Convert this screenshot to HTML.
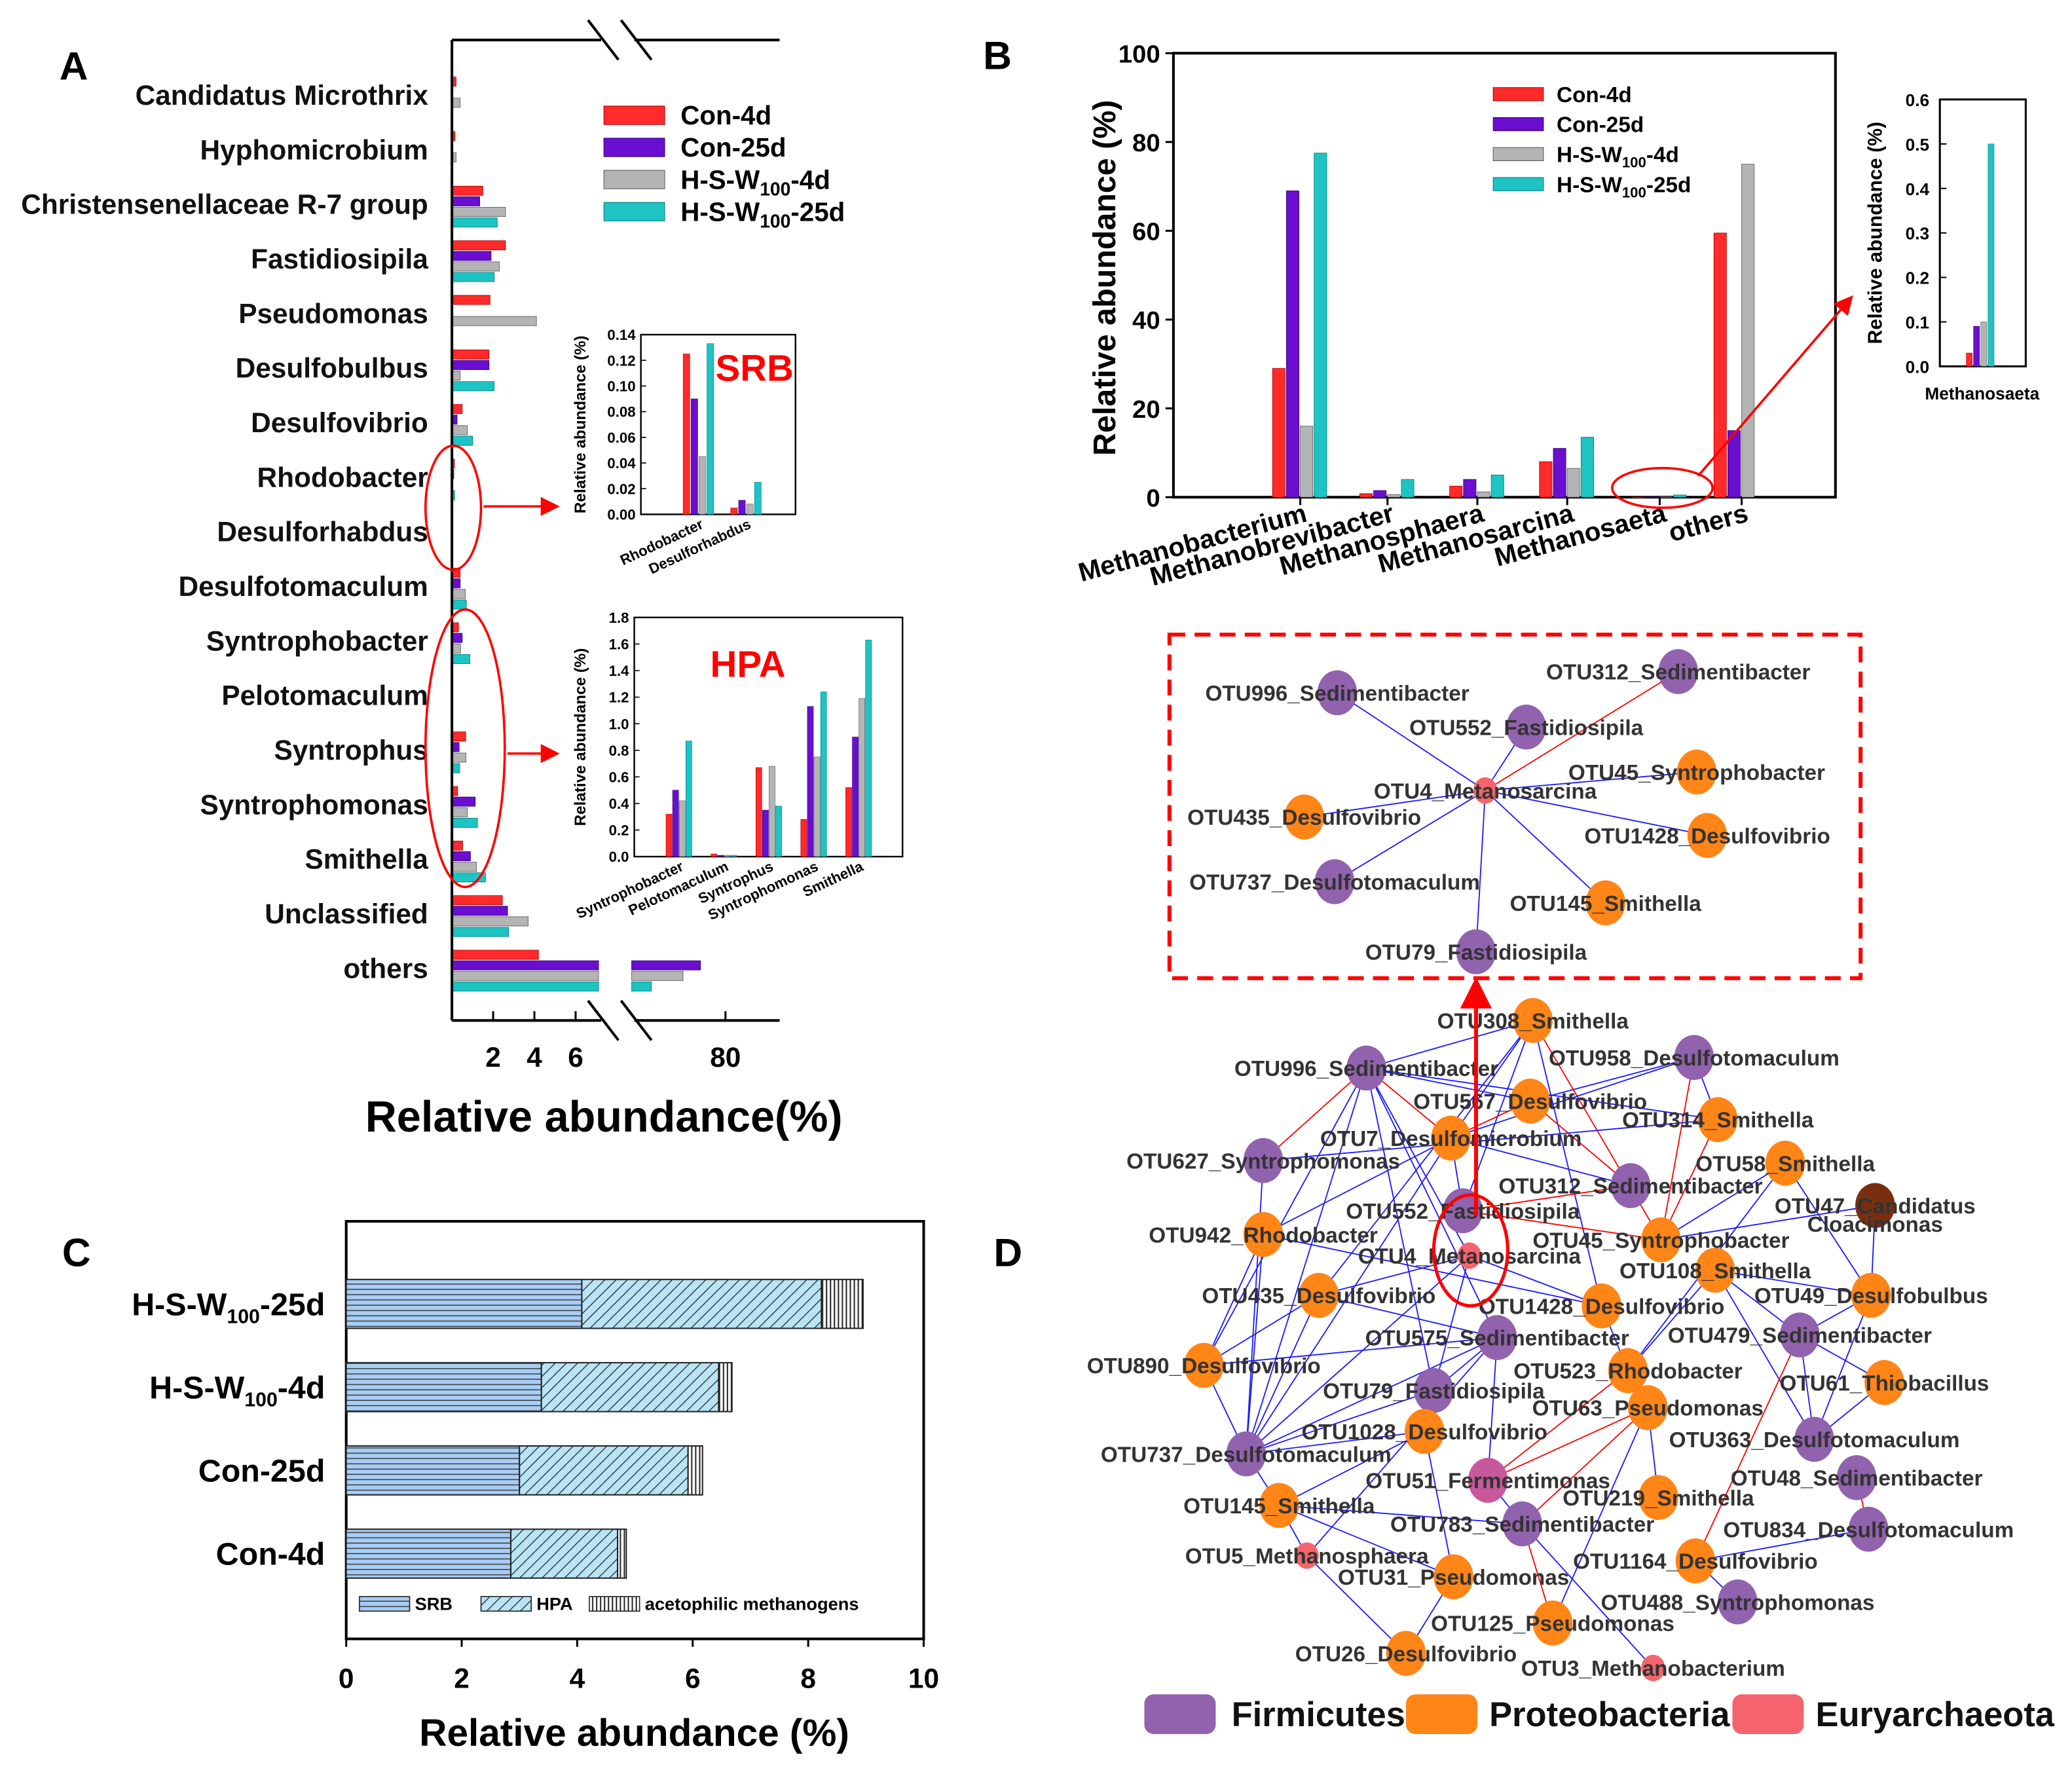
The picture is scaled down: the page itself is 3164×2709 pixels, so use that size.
<!DOCTYPE html>
<html><head><meta charset="utf-8"><style>
html,body{margin:0;padding:0;background:#fff}
svg{display:block}
text{font-family:"Liberation Sans",sans-serif;font-weight:bold}
</style></head><body>
<svg id="fig" width="3164" height="2709" viewBox="0 0 1568 1342" xmlns="http://www.w3.org/2000/svg">
<defs>
<pattern id="pSRB" width="6" height="4" patternUnits="userSpaceOnUse"><rect width="6" height="4" fill="#a8cdf5"/><line x1="0" y1="3.5" x2="6" y2="3.5" stroke="#333" stroke-width="0.7"/></pattern>
<pattern id="pHPA" width="6" height="6" patternUnits="userSpaceOnUse" patternTransform="rotate(45)"><rect width="6" height="6" fill="#b8e4f5"/><line x1="0" y1="0" x2="0" y2="6" stroke="#333" stroke-width="1.4"/></pattern>
<pattern id="pACE" width="3" height="4" patternUnits="userSpaceOnUse"><rect width="3" height="4" fill="#fff"/><line x1="1.5" y1="0" x2="1.5" y2="4" stroke="#222" stroke-width="1"/></pattern>
<marker id="arr" markerWidth="8" markerHeight="8" refX="6" refY="4" orient="auto"><path d="M0,0 L8,4 L0,8 z" fill="#f00"/></marker>
</defs>
<g id="gA"></g><g id="gB"></g><g id="gC"></g><g id="gD"></g>
</svg>
<script>
// ===== Panel A data =====
const aCategories = ["Candidatus Microthrix","Hyphomicrobium","Christensenellaceae R-7 group","Fastidiosipila","Pseudomonas","Desulfobulbus","Desulfovibrio","Rhodobacter","Desulforhabdus","Desulfotomaculum","Syntrophobacter","Pelotomaculum","Syntrophus","Syntrophomonas","Smithella","Unclassified","others"];
const aCon4d  = [0.2,0.15,1.5,2.6,1.85,1.8,0.5,0.12,0.005,0.4,0.32,0.02,0.67,0.28,0.52,2.45,4.2];
const aCon25d = [0,0,1.35,1.9,0,1.8,0.25,0.09,0.01,0.4,0.5,0.01,0.35,1.13,0.9,2.7,73.7];
const aHSW4d  = [0.4,0.2,2.6,2.3,4.1,0.4,0.75,0.045,0.008,0.65,0.42,0.01,0.68,0.75,1.19,3.7,69.3];
const aHSW25d = [0,0,2.2,2.05,0,2.05,1.0,0.13,0.025,0.7,0.87,0.01,0.38,1.24,1.63,2.75,61.3];
const aTicks = [2,4,6,80];
const srbCats = ["Rhodobacter","Desulforhabdus"];
const srbCon4d=[0.125,0.005], srbCon25d=[0.09,0.011], srbHSW4d=[0.045,0.008], srbHSW25d=[0.133,0.025];
const srbTicks=[0,0.02,0.04,0.06,0.08,0.10,0.12,0.14];
const hpaCats=["Syntrophobacter","Pelotomaculum","Syntrophus","Syntrophomonas","Smithella"];
const hpaCon4d=[0.32,0.02,0.67,0.28,0.52], hpaCon25d=[0.5,0.01,0.35,1.13,0.9], hpaHSW4d=[0.42,0.01,0.68,0.75,1.19], hpaHSW25d=[0.87,0.01,0.38,1.24,1.63];
const hpaTicks=[0,0.2,0.4,0.6,0.8,1.0,1.2,1.4,1.6,1.8];
// ===== Panel B data =====
const bCats=["Methanobacterium","Methanobrevibacter","Methanosphaera","Methanosarcina","Methanosaeta","others"];
const bCon4d=[29,0.8,2.5,8,0.03,59.5], bCon25d=[69,1.5,4,11,0.09,15], bHSW4d=[16,0.6,1.2,6.5,0.1,75], bHSW25d=[77.5,4,5,13.5,0.5,0];
const bTicks=[0,20,40,60,80,100];
const bInsetVals=[0.03,0.09,0.1,0.5];
const bInsetTicks=[0,0.1,0.2,0.3,0.4,0.5,0.6];
// ===== Panel C data =====
const cCats=["H-S-W100-25d","H-S-W100-4d","Con-25d","Con-4d"];
const cSRB=[4.08,3.38,3.0,2.85], cHPA=[4.15,3.07,2.92,1.85], cACE=[0.72,0.23,0.25,0.15];
const cTicks=[0,2,4,6,8,10];

const NS="http://www.w3.org/2000/svg";
function el(parent,tag,attrs,txt){const e=document.createElementNS(NS,tag);for(const k in attrs)e.setAttribute(k,attrs[k]);if(txt!==undefined)e.textContent=txt;parent.appendChild(e);return e;}
const COL=["#ff2a2a","#6a0fd0","#b4b4b4","#1ec3c3"];
const EDGE=["#a00","#300070","#555","#077"];
const seriesNames=["con-4d","con-25d","hsw100-4d","hsw100-25d"];

// ---------- Panel A ----------
const gA=document.getElementById('gA');
let t=el(gA,'text',{x:45,y:60,'font-size':30});

t.textContent='A';
function ax(v){return v<=6.9?342+v*15.6:549+(v-80)*3;}
const aSeries=[aCon4d,aCon25d,aHSW4d,aHSW25d];
const offs=[-14,-6,2,10];
aCategories.forEach((c,i)=>{
  const cy=72+i*41.3;
  const tx=el(gA,'text',{x:324,y:cy+7,'text-anchor':'end','font-size':21,fill:'#111'},c);
  
  
  aSeries.forEach((s,j)=>{
    const v=s[i]; if(v<=0) return;
    if(v>6.9){
      const r1=el(gA,'rect',{x:342,y:cy+offs[j],width:453-342,height:7,fill:COL[j],stroke:EDGE[j],'stroke-width':0.4});
      
      
      const r2=el(gA,'rect',{x:478,y:cy+offs[j],width:ax(v)-478,height:7,fill:COL[j],stroke:EDGE[j],'stroke-width':0.4});
      
      
    } else {
      const r=el(gA,'rect',{x:342,y:cy+offs[j],width:Math.max(ax(v)-342,0.6),height:7,fill:COL[j],stroke:EDGE[j],'stroke-width':0.4});
      
      
    }
  });
});
el(gA,'line',{x1:342,y1:30,x2:342,y2:772,stroke:'#000','stroke-width':2});
el(gA,'line',{x1:342,y1:772,x2:455,y2:772,stroke:'#000','stroke-width':2});
el(gA,'line',{x1:480,y1:772,x2:590,y2:772,stroke:'#000','stroke-width':2});
el(gA,'line',{x1:342,y1:30,x2:455,y2:30,stroke:'#000','stroke-width':2});
el(gA,'line',{x1:480,y1:30,x2:590,y2:30,stroke:'#000','stroke-width':2});
[[445,15,468,45],[470,15,493,45],[445,757,468,787],[470,757,493,787]].forEach(b=>el(gA,'line',{x1:b[0],y1:b[1],x2:b[2],y2:b[3],stroke:'#000','stroke-width':2}));
aTicks.forEach(v=>{
  el(gA,'line',{x1:ax(v),y1:772,x2:ax(v),y2:765,stroke:'#000','stroke-width':1.5});
  const tk=el(gA,'text',{x:ax(v),y:807,'text-anchor':'middle','font-size':21},String(v));
  
  
});
t=el(gA,'text',{x:457,y:856,'text-anchor':'middle','font-size':33},'Relative abundance(%)');


const legA=[['Con-4d',''],['Con-25d',''],['H-S-W','-4d'],['H-S-W','-25d']];
legA.forEach((l,j)=>{
  const y=87+j*24.3;
  const r=el(gA,'rect',{x:457,y:y-7,width:46,height:14,fill:COL[j],stroke:EDGE[j],'stroke-width':0.5});
  
  
  const tx=el(gA,'text',{x:515,y:y+7,'font-size':20});
  
  
  tx.innerHTML=l[1]?l[0]+'<tspan font-size="14" dy="5">100</tspan><tspan dy="-5">'+l[1]+'</tspan>':l[0];
});
el(gA,'ellipse',{cx:343,cy:384,rx:21,ry:47,fill:'none',stroke:'#f00','stroke-width':1.8});
el(gA,'ellipse',{cx:352,cy:566,rx:30,ry:105,fill:'none',stroke:'#f00','stroke-width':1.8});
el(gA,'line',{x1:366,y1:383,x2:420,y2:383,stroke:'#f00','stroke-width':1.8,'marker-end':'url(#arr)'});
el(gA,'line',{x1:384,y1:570,x2:420,y2:570,stroke:'#f00','stroke-width':1.8,'marker-end':'url(#arr)'});
function inset(g,box,max,ticks,cats,series,start,gap,bw,stride,labelTxt,lx,ly,titleX,dec){
  const [x0,y0,x1,y1]=box;
  const sy=v=>y1-v*(y1-y0)/max;
  el(g,'rect',{x:x0,y:y0,width:x1-x0,height:y1-y0,fill:'#fff',stroke:'#000','stroke-width':1.2});
  ticks.forEach(v=>{
    el(g,'line',{x1:x0,y1:sy(v),x2:x0+4,y2:sy(v),stroke:'#000','stroke-width':0.8});
    el(g,'text',{x:x0-4,y:sy(v)+4,'text-anchor':'end','font-size':11},v.toFixed(dec));
  });
  cats.forEach((c,i)=>{
    const gx=start+i*gap;
    series.forEach((s,j)=>{
      const r=el(g,'rect',{x:gx+j*stride,y:sy(s[i]),width:bw,height:Math.max(y1-sy(s[i]),0.5),fill:COL[j],stroke:EDGE[j],'stroke-width':0.3});
      
      
    });
    el(g,'text',{x:gx+stride*2+4,y:y1+10,'text-anchor':'end','font-size':11,transform:`rotate(-25 ${gx+stride*2+4} ${y1+10})`},c);
  });
  const tt=el(g,'text',{x:titleX,y:(y0+y1)/2,'text-anchor':'middle','font-size':12,transform:`rotate(-90 ${titleX} ${(y0+y1)/2})`},'Relative abundance (%)');
  
  
  const lt=el(g,'text',{x:lx,y:ly,'text-anchor':'middle','font-size':28,fill:'#f00'},labelTxt);
  
  
}
inset(gA,[485,253,602,389],0.14,srbTicks,srbCats,[srbCon4d,srbCon25d,srbHSW4d,srbHSW25d],517,36,5,6,'SRB',571,288,443,2);
inset(gA,[480,467,683,648],1.8,hpaTicks,hpaCats,[hpaCon4d,hpaCon25d,hpaHSW4d,hpaHSW25d],504,34,4.5,5,'HPA',566,512,443,1);

// ---------- Panel B ----------
const gB=document.getElementById('gB');
t=el(gB,'text',{x:744,y:52,'font-size':30},'B');


const by=v=>376-v*3.36;
el(gB,'rect',{x:888,y:40,width:501,height:336,fill:'none',stroke:'#000','stroke-width':2});
bTicks.forEach(v=>{
  el(gB,'line',{x1:888,y1:by(v),x2:882,y2:by(v),stroke:'#000','stroke-width':1.5});
  const tk=el(gB,'text',{x:878,y:by(v)+7,'text-anchor':'end','font-size':19},String(v));
  
  
});
const bCenters=[984,1050,1118,1186,1256,1318];
const bSeries=[bCon4d,bCon25d,bHSW4d,bHSW25d];
bCats.forEach((c,i)=>{
  const gx=bCenters[i]-21;
  bSeries.forEach((s,j)=>{
    if(s[i]<=0)return;
    const r=el(gB,'rect',{x:gx+j*10.5,y:by(s[i]),width:9.5,height:Math.max(376-by(s[i]),0.5),fill:COL[j],stroke:EDGE[j],'stroke-width':0.4});
    
    
  });
  el(gB,'line',{x1:bCenters[i],y1:376,x2:bCenters[i],y2:382,stroke:'#000','stroke-width':1.5});
  const tx=el(gB,'text',{x:bCenters[i]+6,y:394,'text-anchor':'end','font-size':20,transform:`rotate(-15 ${bCenters[i]+6} 394)`},c);
  
  
});
t=el(gB,'text',{x:844,y:210,'text-anchor':'middle','font-size':24,transform:'rotate(-90 844 210)'},'Relative abundance (%)');


legA.forEach((l,j)=>{
  const y=71+j*22.7;
  const r=el(gB,'rect',{x:1130,y:y-5,width:38,height:10,fill:COL[j],stroke:EDGE[j],'stroke-width':0.5});
  
  
  const tx=el(gB,'text',{x:1178,y:y+6,'font-size':16.5});
  
  
  tx.innerHTML=l[1]?l[0]+'<tspan font-size="11" dy="4">100</tspan><tspan dy="-4">'+l[1]+'</tspan>':l[0];
});
el(gB,'ellipse',{cx:1258,cy:369,rx:38,ry:15,fill:'none',stroke:'#f00','stroke-width':1.8});
el(gB,'line',{x1:1285,y1:360,x2:1400,y2:226,stroke:'#f00','stroke-width':1.8,'marker-end':'url(#arr)'});
const biy=v=>277-v*202/0.6;
el(gB,'rect',{x:1468,y:75,width:65,height:202,fill:'none',stroke:'#000','stroke-width':1.5});
bInsetTicks.forEach(v=>{
  el(gB,'line',{x1:1468,y1:biy(v),x2:1473,y2:biy(v),stroke:'#000','stroke-width':1});
  el(gB,'text',{x:1460,y:biy(v)+5,'text-anchor':'end','font-size':13},v.toFixed(1));
});
bInsetVals.forEach((v,j)=>{
  const r=el(gB,'rect',{x:1488+j*5.5,y:biy(v),width:4.5,height:277-biy(v),fill:COL[j],stroke:EDGE[j],'stroke-width':0.3});
  
  
});
el(gB,'text',{x:1500,y:302,'text-anchor':'middle','font-size':13},'Methanosaeta');
el(gB,'text',{x:1424,y:176,'text-anchor':'middle','font-size':15,transform:'rotate(-90 1424 176)'},'Relative abundance (%)');

// ---------- Panel C ----------
const gC=document.getElementById('gC');
t=el(gC,'text',{x:47,y:958,'font-size':30},'C');


const cx=v=>262+v*43.7;
el(gC,'rect',{x:262,y:924,width:437,height:316,fill:'none',stroke:'#000','stroke-width':2});
cTicks.forEach(v=>{
  el(gC,'line',{x1:cx(v),y1:1240,x2:cx(v),y2:1246,stroke:'#000','stroke-width':1.5});
  const tk=el(gC,'text',{x:cx(v),y:1277,'text-anchor':'middle','font-size':21},String(v));
  
  
});
const cLabels=[['H-S-W','-25d'],['H-S-W','-4d'],['Con-25d',''],['Con-4d','']];
cCats.forEach((c,i)=>{
  const y=968+i*63;
  let x=0;
  [[cSRB,'url(#pSRB)','bar-srb'],[cHPA,'url(#pHPA)','bar-hpa'],[cACE,'url(#pACE)','bar-acetophilic']].forEach(s=>{
    const r=el(gC,'rect',{x:cx(x),y:y,width:cx(x+s[0][i])-cx(x),height:37,fill:s[1],stroke:'#222','stroke-width':1});
    
    
    x+=s[0][i];
  });
  const tx=el(gC,'text',{x:246,y:y+27,'text-anchor':'end','font-size':24});
  
  
  const l=cLabels[i];
  tx.innerHTML=l[1]?l[0]+'<tspan font-size="15" dy="6">100</tspan><tspan dy="-6">'+l[1]+'</tspan>':l[0];
});
[['url(#pSRB)','SRB',272],['url(#pHPA)','HPA',364],['url(#pACE)','acetophilic methanogens',446]].forEach(L=>{
  el(gC,'rect',{x:L[2],y:1208,width:38,height:11,fill:L[0],stroke:'#222','stroke-width':0.8});
  const tx=el(gC,'text',{x:L[2]+42,y:1218,'font-size':13.5},L[1]);
  
  
});
t=el(gC,'text',{x:480,y:1321,'text-anchor':'middle','font-size':29},'Relative abundance (%)');



// ---------- Panel D ----------
const gD=document.getElementById('gD');
t=el(gD,'text',{x:752,y:958,'font-size':30},'D');


const NC={P:'#9162ad',O:'#ff8517',E:'#f5646c',F:'#c8589c',B:'#7a2e10'};
const topNodes=[["OTU996_Sedimentibacter",1012,524,'P'],["OTU312_Sedimentibacter",1270,508,'P'],["OTU552_Fastidiosipila",1155,550,'P'],["OTU45_Syntrophobacter",1284,584,'O'],["OTU4_Metanosarcina",1124,598,'E'],["OTU435_Desulfovibrio",987,618,'O'],["OTU1428_Desulfovibrio",1292,632,'O'],["OTU737_Desulfotomaculum",1010,667,'P'],["OTU145_Smithella",1215,683,'O'],["OTU79_Fastidiosipila",1117,720,'P']];
const nodes=[["OTU308_Smithella",1160,772,'O'],["OTU996_Sedimentibacter",1034,808,'P'],["OTU958_Desulfotomaculum",1282,800,'P'],["OTU567_Desulfovibrio",1158,833,'O'],["OTU314_Smithella",1300,847,'O'],["OTU7_Desulfomicrobium",1098,861,'O'],["OTU627_Syntrophomonas",956,878,'P'],["OTU58_Smithella",1351,880,'O'],["OTU312_Sedimentibacter",1234,897,'P'],["OTU47_Candidatus",1419,912,'B'],["OTU552_Fastidiosipila",1107,916,'P'],["OTU942_Rhodobacter",956,934,'O'],["OTU4_Metanosarcina",1112,950,'E'],["OTU45_Syntrophobacter",1257,938,'O'],["OTU108_Smithella",1298,961,'O'],["OTU435_Desulfovibrio",998,980,'O'],["OTU1428_Desulfovibrio",1212,988,'O'],["OTU49_Desulfobulbus",1416,980,'O'],["OTU575_Sedimentibacter",1133,1012,'P'],["OTU479_Sedimentibacter",1362,1010,'P'],["OTU890_Desulfovibrio",911,1033,'O'],["OTU523_Rhodobacter",1232,1037,'O'],["OTU61_Thiobacillus",1426,1046,'O'],["OTU79_Fastidiosipila",1085,1052,'P'],["OTU63_Pseudomonas",1247,1065,'O'],["OTU1028_Desulfovibrio",1078,1083,'O'],["OTU363_Desulfotomaculum",1373,1089,'P'],["OTU737_Desulfotomaculum",943,1100,'P'],["OTU51_Fermentimonas",1126,1120,'F'],["OTU48_Sedimentibacter",1405,1118,'P'],["OTU219_Smithella",1255,1133,'O'],["OTU145_Smithella",968,1139,'O'],["OTU783_Sedimentibacter",1152,1153,'P'],["OTU834_Desulfotomaculum",1414,1157,'P'],["OTU5_Methanosphaera",989,1177,'E'],["OTU1164_Desulfovibrio",1283,1181,'O'],["OTU31_Pseudomonas",1100,1193,'O'],["OTU488_Syntrophomonas",1315,1212,'P'],["OTU125_Pseudomonas",1175,1228,'O'],["OTU26_Desulfovibrio",1064,1251,'O'],["OTU3_Methanobacterium",1251,1262,'E']];
const topEdges=[[4,0,'b'],[4,1,'r'],[4,2,'b'],[4,3,'b'],[4,5,'b'],[4,6,'b'],[4,7,'b'],[4,8,'b'],[4,9,'b']];
const edgeList=[["OTU308_Smithella","OTU996_Sedimentibacter",'b'],["OTU308_Smithella","OTU7_Desulfomicrobium",'b'],["OTU308_Smithella","OTU45_Syntrophobacter",'r'],["OTU308_Smithella","OTU1428_Desulfovibrio",'b'],["OTU308_Smithella","OTU552_Fastidiosipila",'b'],["OTU308_Smithella","OTU435_Desulfovibrio",'b'],["OTU996_Sedimentibacter","OTU567_Desulfovibrio",'b'],["OTU996_Sedimentibacter","OTU7_Desulfomicrobium",'r'],["OTU996_Sedimentibacter","OTU627_Syntrophomonas",'r'],["OTU996_Sedimentibacter","OTU314_Smithella",'b'],["OTU996_Sedimentibacter","OTU4_Metanosarcina",'b'],["OTU996_Sedimentibacter","OTU890_Desulfovibrio",'b'],["OTU996_Sedimentibacter","OTU737_Desulfotomaculum",'b'],["OTU996_Sedimentibacter","OTU79_Fastidiosipila",'b'],["OTU996_Sedimentibacter","OTU575_Sedimentibacter",'b'],["OTU958_Desulfotomaculum","OTU567_Desulfovibrio",'b'],["OTU958_Desulfotomaculum","OTU45_Syntrophobacter",'r'],["OTU958_Desulfotomaculum","OTU314_Smithella",'b'],["OTU958_Desulfotomaculum","OTU7_Desulfomicrobium",'b'],["OTU567_Desulfovibrio","OTU312_Sedimentibacter",'r'],["OTU567_Desulfovibrio","OTU7_Desulfomicrobium",'r'],["OTU314_Smithella","OTU45_Syntrophobacter",'r'],["OTU314_Smithella","OTU627_Syntrophomonas",'b'],["OTU7_Desulfomicrobium","OTU312_Sedimentibacter",'b'],["OTU7_Desulfomicrobium","OTU737_Desulfotomaculum",'b'],["OTU7_Desulfomicrobium","OTU552_Fastidiosipila",'b'],["OTU58_Smithella","OTU45_Syntrophobacter",'b'],["OTU58_Smithella","OTU523_Rhodobacter",'b'],["OTU58_Smithella","OTU49_Desulfobulbus",'b'],["OTU47_Candidatus","OTU49_Desulfobulbus",'b'],["OTU47_Candidatus","OTU45_Syntrophobacter",'b'],["OTU552_Fastidiosipila","OTU45_Syntrophobacter",'r'],["OTU552_Fastidiosipila","OTU312_Sedimentibacter",'r'],["OTU4_Metanosarcina","OTU737_Desulfotomaculum",'b'],["OTU4_Metanosarcina","OTU79_Fastidiosipila",'b'],["OTU4_Metanosarcina","OTU435_Desulfovibrio",'b'],["OTU4_Metanosarcina","OTU1428_Desulfovibrio",'b'],["OTU942_Rhodobacter","OTU1428_Desulfovibrio",'b'],["OTU942_Rhodobacter","OTU890_Desulfovibrio",'b'],["OTU942_Rhodobacter","OTU7_Desulfomicrobium",'b'],["OTU108_Smithella","OTU49_Desulfobulbus",'b'],["OTU108_Smithella","OTU523_Rhodobacter",'b'],["OTU108_Smithella","OTU479_Sedimentibacter",'b'],["OTU108_Smithella","OTU363_Desulfotomaculum",'b'],["OTU435_Desulfovibrio","OTU890_Desulfovibrio",'b'],["OTU435_Desulfovibrio","OTU737_Desulfotomaculum",'b'],["OTU435_Desulfovibrio","OTU575_Sedimentibacter",'b'],["OTU575_Sedimentibacter","OTU890_Desulfovibrio",'b'],["OTU575_Sedimentibacter","OTU79_Fastidiosipila",'b'],["OTU575_Sedimentibacter","OTU51_Fermentimonas",'b'],["OTU575_Sedimentibacter","OTU737_Desulfotomaculum",'b'],["OTU479_Sedimentibacter","OTU49_Desulfobulbus",'b'],["OTU479_Sedimentibacter","OTU61_Thiobacillus",'b'],["OTU479_Sedimentibacter","OTU363_Desulfotomaculum",'b'],["OTU479_Sedimentibacter","OTU1164_Desulfovibrio",'r'],["OTU49_Desulfobulbus","OTU363_Desulfotomaculum",'b'],["OTU523_Rhodobacter","OTU1428_Desulfovibrio",'b'],["OTU523_Rhodobacter","OTU51_Fermentimonas",'r'],["OTU63_Pseudomonas","OTU51_Fermentimonas",'r'],["OTU63_Pseudomonas","OTU783_Sedimentibacter",'r'],["OTU63_Pseudomonas","OTU219_Smithella",'b'],["OTU63_Pseudomonas","OTU125_Pseudomonas",'b'],["OTU79_Fastidiosipila","OTU737_Desulfotomaculum",'b'],["OTU1028_Desulfovibrio","OTU737_Desulfotomaculum",'b'],["OTU1028_Desulfovibrio","OTU145_Smithella",'b'],["OTU1028_Desulfovibrio","OTU31_Pseudomonas",'b'],["OTU737_Desulfotomaculum","OTU890_Desulfovibrio",'b'],["OTU737_Desulfotomaculum","OTU145_Smithella",'b'],["OTU737_Desulfotomaculum","OTU942_Rhodobacter",'b'],["OTU145_Smithella","OTU31_Pseudomonas",'b'],["OTU145_Smithella","OTU783_Sedimentibacter",'b'],["OTU145_Smithella","OTU5_Methanosphaera",'b'],["OTU5_Methanosphaera","OTU26_Desulfovibrio",'b'],["OTU5_Methanosphaera","OTU575_Sedimentibacter",'b'],["OTU783_Sedimentibacter","OTU125_Pseudomonas",'r'],["OTU783_Sedimentibacter","OTU51_Fermentimonas",'b'],["OTU783_Sedimentibacter","OTU3_Methanobacterium",'b'],["OTU26_Desulfovibrio","OTU31_Pseudomonas",'b'],["OTU48_Sedimentibacter","OTU834_Desulfotomaculum",'r'],["OTU834_Desulfotomaculum","OTU1164_Desulfovibrio",'b'],["OTU1164_Desulfovibrio","OTU488_Syntrophomonas",'b'],["OTU627_Syntrophomonas","OTU737_Desulfotomaculum",'b'],["OTU363_Desulfotomaculum","OTU61_Thiobacillus",'b']];
function drawNet(list,edges,byIndex){
  const idx={};list.forEach((n,i)=>idx[n[0]]=i);
  edges.forEach(e=>{
    const a=list[byIndex?e[0]:idx[e[0]]], b=list[byIndex?e[1]:idx[e[1]]];
    if(!a||!b)return;
    const l=el(gD,'line',{x1:a[1],y1:a[2],x2:b[1],y2:b[2],stroke:e[2]==='r'?'#f00':'#1a1aff','stroke-width':0.9});
    
    
  });
  list.forEach(n=>{
    const small=n[3]==='E';
    const c=el(gD,'ellipse',{cx:n[1],cy:n[2],rx:small?9:15,ry:small?10:17,fill:NC[n[3]]});
    
    
  });
  list.forEach(n=>{
    const tx=el(gD,'text',{x:n[1],y:n[2]+6,'text-anchor':'middle','font-size':16.5,fill:'#333'},n[0]);
    
    
  });
}
drawNet(topNodes,topEdges,true);
drawNet(nodes,edgeList,false);
el(gD,'text',{x:1419,y:932,'text-anchor':'middle','font-size':16.5,fill:'#333'},'Cloacimonas');
let box=el(gD,'rect',{x:885,y:480,width:523,height:260,fill:'none',stroke:'#f00','stroke-width':3,'stroke-dasharray':'12,7'});


el(gD,'line',{x1:1117,y1:920,x2:1117,y2:745,stroke:'#f00','stroke-width':3,'marker-end':'url(#arr)'});
el(gD,'ellipse',{cx:1113,cy:946,rx:28,ry:42,fill:'none',stroke:'#f00','stroke-width':2.5});
[['#9162ad','Firmicutes',866,932],['#ff8517','Proteobacteria',1064,1127],['#f5646c','Euryarchaeota',1311,1374]].forEach(L=>{
  const r=el(gD,'rect',{x:L[2],y:1282,width:54,height:30,rx:7,fill:L[0]});
  
  
  const tx=el(gD,'text',{x:L[3],y:1306,'font-size':26,fill:'#111'},L[1]);
  
  
});
</script>
</body></html>
